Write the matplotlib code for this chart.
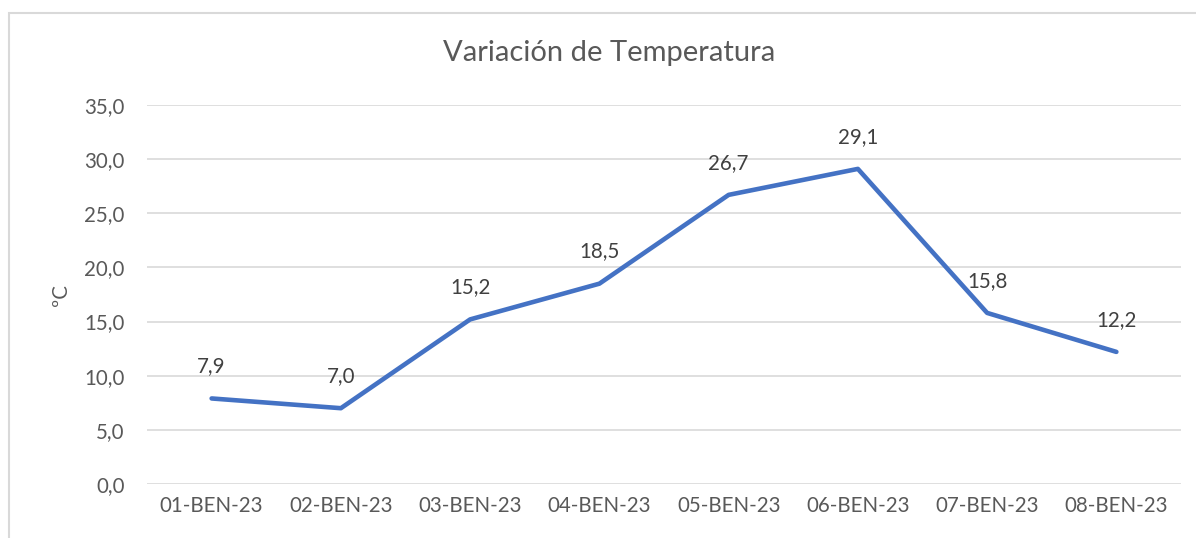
import matplotlib
matplotlib.use("Agg")
import matplotlib.pyplot as plt
from matplotlib.patches import Rectangle

categories = ["01-BEN-23", "02-BEN-23", "03-BEN-23", "04-BEN-23",
              "05-BEN-23", "06-BEN-23", "07-BEN-23", "08-BEN-23"]
temps = [7.9, 7.0, 15.2, 18.5, 26.7, 29.1, 15.8, 12.2]
yticks = [0, 5, 10, 15, 20, 25, 30, 35]

plt.rcParams['font.family'] = ['Lato', 'DejaVu Sans']
W, H = 1196, 538
fig = plt.figure(figsize=(W / 100, H / 100), dpi=100)

# chart border (extends beyond the right/bottom edges)
fig.patches.append(Rectangle((9 / W, -0.1), 1.2, 1 - 13 / H + 0.1,
                             transform=fig.transFigure, fill=False,
                             edgecolor='#d9d9d9', linewidth=1.5))

ax = fig.add_axes([147 / W, 1 - 484 / H, (1181 - 147) / W, (484 - 105) / H])
x = list(range(len(categories)))
ax.plot(x, temps, color='#4472C4', linewidth=3.3, solid_capstyle='round',
        solid_joinstyle='round', zorder=3)
for xi, v in zip(x, temps):
    ax.annotate(f"{v:.1f}".replace('.', ','), (xi, v), xytext=(0, 16),
                textcoords='offset points', ha='center', va='bottom',
                fontsize=14.8, color='#404040')

ax.set_xlim(-0.5, len(categories) - 0.5)
ax.set_ylim(0, 35)
ax.set_yticks(yticks)
ax.set_yticklabels([f"{t:.1f}".replace('.', ',') for t in yticks])
ax.set_xticks(x)
ax.set_xticklabels(categories)
ax.tick_params(axis='both', length=0, labelsize=14.8, colors='#595959')
ax.tick_params(axis='y', pad=16)
ax.tick_params(axis='x', pad=9)
ax.grid(axis='y', color='#d9d9d9', linewidth=1.2)
ax.set_axisbelow(True)
for s in ax.spines.values():
    s.set_visible(False)
ax.set_ylabel("ºC", fontsize=14.8, color='#595959', labelpad=10)
fig.text(609 / W, 1 - 53 / H, "Variación de Temperatura", ha='center',
         va='center', fontsize=21, color='#595959')

fig.savefig("out.png", dpi=100)
